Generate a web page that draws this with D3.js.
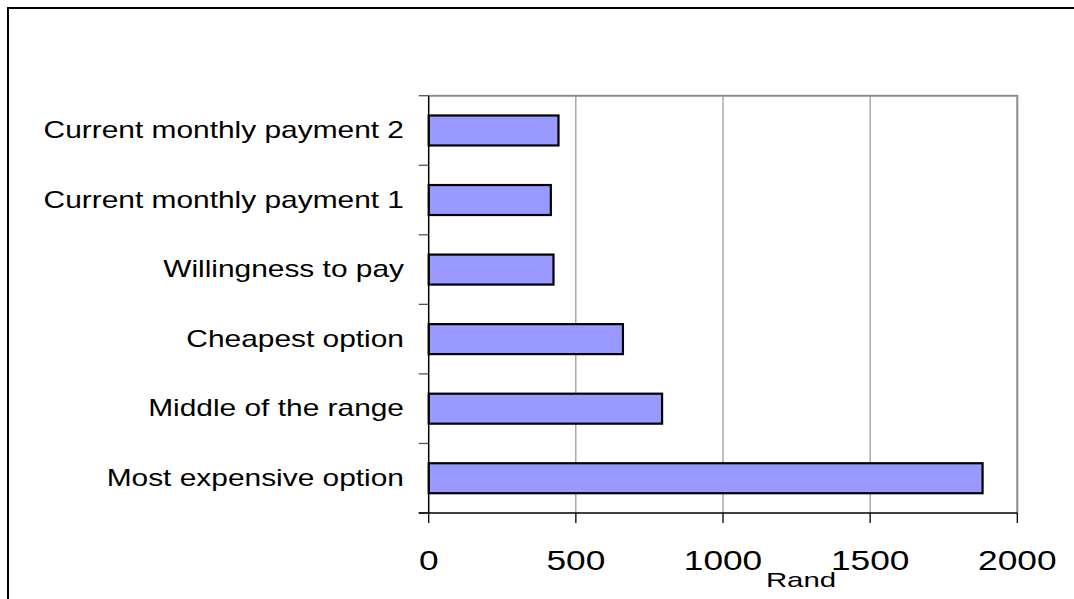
<!DOCTYPE html>
<html>
<head>
<meta charset="utf-8">
<script src="https://cdn.jsdelivr.net/npm/d3@7/dist/d3.min.js"></script>
<style>
  html, body { margin: 0; padding: 0; background: #fff; overflow: hidden; }
  svg { display: block; font-family: "Liberation Sans", Arial, sans-serif; }
</style>
</head>
<body>
<svg id="chart" width="1074" height="599"></svg>
<script>
// Payment options, top to bottom
const categories = [
  "Current monthly payment 2",
  "Current monthly payment 1",
  "Willingness to pay",
  "Cheapest option",
  "Middle of the range",
  "Most expensive option"
];
// Monthly amount in Rand
const values = [441, 415, 424, 660, 793, 1882];
const xTicks = [0, 500, 1000, 1500, 2000];
const xTitle = "Rand";

const svg = d3.select("#chart");

// Outer chart frame
svg.append("rect")
  .attr("x", 8).attr("y", 8)
  .attr("width", 1200).attr("height", 800)
  .attr("fill", "none").attr("stroke", "#000").attr("stroke-width", 2);

const plot = { left: 428.7, right: 1017.3, top: 95.7, bottom: 513 };

const x = d3.scaleLinear().domain([0, 2000]).range([plot.left, plot.right]);
const y = d3.scaleBand().domain(categories)
  .range([plot.top, plot.bottom])
  .paddingInner(0.569).paddingOuter(0.2845);

// Vertical gridlines
svg.append("g").selectAll("line")
  .data(xTicks.filter(t => t > 0 && t < 2000))
  .join("line")
  .attr("x1", d => x(d)).attr("x2", d => x(d))
  .attr("y1", plot.top).attr("y2", plot.bottom)
  .attr("stroke", "#808080").attr("stroke-width", 1);

// Plot area border (top and right)
svg.append("path")
  .attr("d", `M${plot.left},${plot.top}H${plot.right}V${plot.bottom}`)
  .attr("fill", "none").attr("stroke", "#8c8c8c").attr("stroke-width", 2);

// Bars
svg.append("g").selectAll("rect")
  .data(categories)
  .join("rect")
  .attr("x", x(0))
  .attr("y", d => y(d))
  .attr("width", (d, i) => x(values[i]) - x(0))
  .attr("height", y.bandwidth())
  .attr("fill", "#9999ff")
  .attr("stroke", "#000").attr("stroke-width", 2.2);

// Y axis line and category ticks at band boundaries
const step = y.step();
const yBounds = d3.range(categories.length + 1).map(i => plot.top + i * step);
svg.append("g").selectAll("line")
  .data(yBounds)
  .join("line")
  .attr("x1", plot.left - 10).attr("x2", plot.left)
  .attr("y1", d => d).attr("y2", d => d)
  .attr("stroke", "#555").attr("stroke-width", 1.3);
svg.append("line")
  .attr("x1", plot.left).attr("x2", plot.left)
  .attr("y1", plot.top).attr("y2", plot.bottom)
  .attr("stroke", "#000").attr("stroke-width", 1.5);

// X axis line and ticks
svg.append("line")
  .attr("x1", plot.left - 10).attr("x2", plot.right)
  .attr("y1", plot.bottom).attr("y2", plot.bottom)
  .attr("stroke", "#000").attr("stroke-width", 1.5);
svg.append("g").selectAll("line")
  .data(xTicks)
  .join("line")
  .attr("x1", d => x(d)).attr("x2", d => x(d))
  .attr("y1", plot.bottom).attr("y2", plot.bottom + 10)
  .attr("stroke", "#000").attr("stroke-width", 1.3);

// Category labels (wide-set text)
svg.append("g").selectAll("text")
  .data(categories)
  .join("text")
  .attr("transform", d => `translate(404,${y(d) + y.bandwidth() / 2 + 7.5}) scale(1.3,1)`)
  .attr("text-anchor", "end")
  .attr("font-size", 23)
  .attr("fill", "#000")
  .text(d => d);

// X tick labels
svg.append("g").selectAll("text")
  .data(xTicks)
  .join("text")
  .attr("transform", d => `translate(${x(d)},570) scale(1.26,1)`)
  .attr("text-anchor", "middle")
  .attr("font-size", 28)
  .attr("fill", "#000")
  .text(d => d);

// X axis title
svg.append("text")
  .attr("transform", "translate(801,586.5) scale(1.4,1)")
  .attr("text-anchor", "middle")
  .attr("font-size", 21)
  .attr("fill", "#000")
  .text(xTitle);
</script>
</body>
</html>
